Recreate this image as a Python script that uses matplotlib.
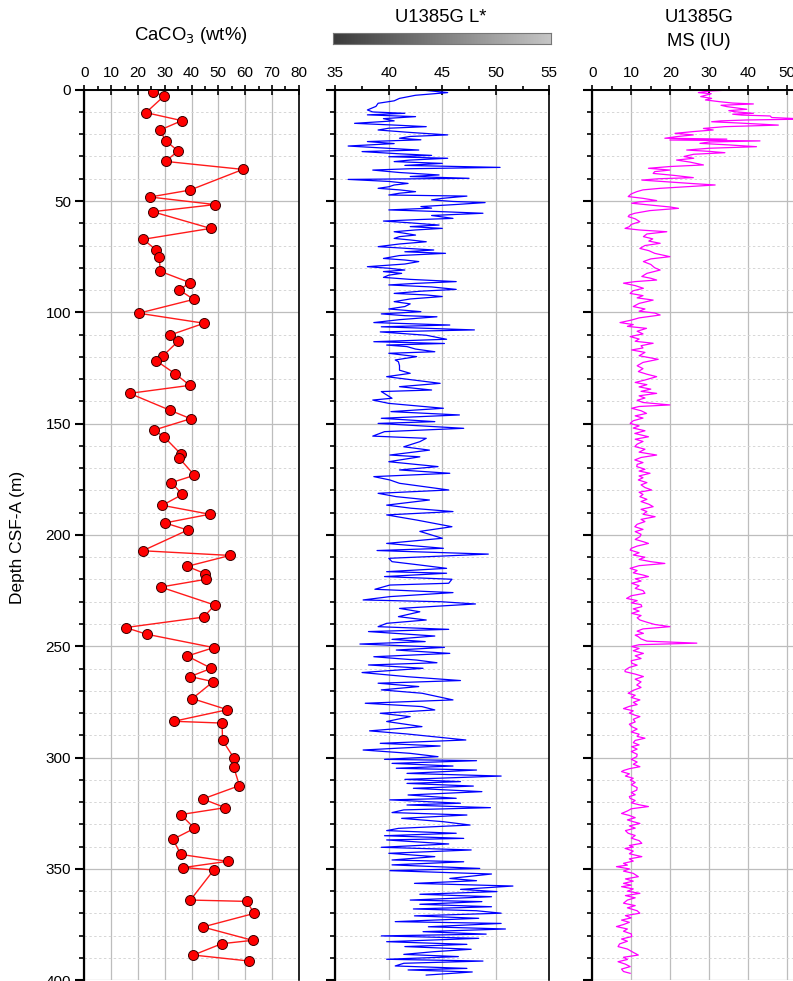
import numpy as np
import matplotlib
matplotlib.use('Agg')
import matplotlib.pyplot as plt
from matplotlib.ticker import MultipleLocator
from matplotlib.colors import LinearSegmentedColormap

plt.rcParams['font.family'] = ['Liberation Sans', 'DejaVu Sans']

# --- CaCO3 (wt%) discrete samples ---
caco3_depth = [1.0, 2.8, 10.3, 13.9, 18.1, 22.9, 27.5, 32.2, 35.8, 45.1, 48.2, 51.6, 54.8, 62.3,
               67.2, 72.0, 75.1, 81.6, 86.7, 89.9, 94.2, 100.4, 104.9, 110.2, 112.9, 119.6, 121.7,
               127.7, 132.8, 136.4, 144.0, 147.8, 152.9, 156.0, 163.6, 165.6, 173.2, 176.5, 181.8,
               186.7, 190.7, 194.6, 197.8, 207.1, 209.2, 214.1, 217.4, 219.9, 223.4, 231.5, 236.9,
               241.6, 244.6, 250.6, 254.4, 259.9, 263.6, 265.9, 273.5, 278.5, 283.7, 284.5, 292.3,
               300.0, 304.1, 312.6, 318.6, 322.5, 325.6, 331.8, 336.7, 343.5, 346.6, 349.4, 350.5,
               364.0, 364.6, 370.0, 376.1, 382.1, 383.6, 388.7, 391.4]
caco3_wt = [25.5, 29.8, 23.0, 36.4, 28.3, 30.3, 35.0, 30.3, 59.2, 39.4, 24.5, 48.8, 25.5, 47.1,
            22.0, 26.8, 27.9, 28.4, 39.5, 35.4, 40.8, 20.3, 44.7, 32.0, 35.1, 29.3, 26.8,
            34.0, 39.4, 16.9, 32.0, 39.7, 26.0, 29.8, 36.0, 35.5, 41.1, 32.5, 36.6,
            29.1, 46.8, 30.1, 38.6, 21.8, 54.4, 38.4, 45.1, 45.5, 28.5, 48.7, 44.5,
            15.4, 23.3, 48.3, 38.4, 47.4, 39.5, 48.1, 40.3, 53.4, 33.4, 51.4, 51.6,
            55.7, 55.7, 57.9, 44.2, 52.6, 36.0, 41.1, 33.1, 36.0, 53.5, 37.0, 48.3,
            39.6, 60.6, 63.4, 44.2, 62.8, 51.3, 40.7, 61.6]

# --- U1385G L* ---
lstar_depth = [0.1, 0.6, 1.3, 2.5, 3.9, 5.0, 6.1, 7.5, 9.1, 10.0, 10.6, 11.3, 12.1, 13.0, 14.0, 15.1,
               16.0, 16.6, 17.3, 18.1, 19.2, 20.3, 21.0, 21.8, 22.5, 23.3, 24.2, 25.3, 26.2, 27.1,
               27.8, 28.8, 29.5, 30.1, 30.8, 31.6, 32.3, 33.1, 34.0, 34.9, 35.5, 36.1, 37.2, 38.3,
               39.0, 39.8, 40.3, 41.2, 42.1, 42.8, 43.6, 44.3, 45.0, 45.8, 46.5, 47.3, 47.8, 48.8,
               49.5, 50.2, 50.7, 51.5, 52.5, 53.2, 54.0, 54.7, 55.5, 56.5, 57.8, 58.3, 59.0, 59.8,
               60.8, 61.5, 62.3, 63.0, 63.8, 64.5, 65.3, 66.0, 66.8, 67.5, 68.3, 69.3, 70.5, 71.2,
               72.0, 72.8, 73.5, 74.5, 75.8, 76.5, 77.2, 78.3, 79.5, 80.2, 81.0, 81.7, 82.5, 83.3,
               84.3, 85.2, 86.2, 87.0, 87.7, 88.6, 89.7, 90.5, 91.5, 92.2, 92.9, 94.0, 95.2, 96.2,
               97.4, 98.5, 99.7, 100.7,
               101.5, 102.0, 103.3, 104.6, 105.7, 106.5, 107.9, 108.8, 110.3, 112.1, 113.2, 114.0,
               114.7, 115.4, 116.5, 117.7, 118.4, 119.9, 121.4, 122.2, 124.0, 126.0, 127.4, 128.9,
               131.1, 131.9, 133.4, 134.9, 135.6, 138.6, 139.4, 140.9, 143.1, 144.6, 146.1, 147.6,
               149.1, 149.9, 152.1, 153.6, 155.6, 156.6, 158.1, 160.4, 161.9, 164.1, 164.9, 167.1,
               169.3, 170.8, 172.3, 173.8, 175.3, 176.8, 179.8, 181.3, 182.8, 184.3, 186.6, 188.0,
               189.5, 191.0, 193.3, 196.3, 198.4, 201.5,
               203.8, 206.0, 207.0, 208.6, 210.5, 212.0, 213.5, 215.0, 216.5, 217.2, 218.7, 219.9,
               221.7, 222.5, 224.4, 225.9, 227.7, 229.2, 230.0, 231.0, 233.0, 234.5, 236.7, 238.2,
               239.7, 241.2, 242.4, 243.4, 245.4, 246.9, 247.9, 249.0, 250.5, 251.7, 253.2, 254.7,
               256.2, 257.4, 258.4, 259.9, 261.8, 263.7, 265.4, 266.6, 268.1, 269.6, 271.1, 274.1,
               275.6, 277.1, 278.6, 280.1, 281.6, 283.8, 286.1, 288.0, 289.4, 292.1, 293.6, 294.8,
               296.6, 298.1, 299.6,
               300.8, 301.4, 302.6, 303.8, 304.8, 305.6, 307.1, 308.3, 309.8, 310.8, 311.6, 312.8,
               313.8, 315.3, 316.8, 318.3, 319.0, 320.5, 321.3, 322.5, 323.5, 324.7, 325.8, 327.3,
               328.8, 330.3, 331.8, 332.8, 334.0, 335.1, 336.3, 337.0, 338.8, 340.3, 341.5, 343.0,
               344.5, 346.0, 346.8, 348.2, 349.8, 350.8, 352.3, 354.3, 355.3, 356.5, 357.7, 359.2,
               360.2, 361.4, 362.5, 364.0, 364.7, 365.9, 367.0, 368.0, 368.8, 369.9, 371.1, 372.2,
               373.7, 374.5, 376.0, 377.0, 378.2, 379.3, 380.1, 381.2, 382.7, 383.9, 384.9, 386.1,
               387.2, 388.4, 389.4, 390.6, 391.4, 392.4, 393.6, 394.7, 395.4, 396.3, 397.7]
lstar = [43.0, 44.0, 45.5, 42.5, 41.0, 40.5, 39.0, 38.8, 38.0, 38.5, 41.5, 38.0, 42.5, 39.5, 40.5, 36.8,
         41.0, 43.5, 40.0, 39.0, 42.0, 45.5, 42.0, 41.0, 43.0, 38.0, 40.5, 36.2, 39.5, 42.8,
         37.5, 41.0, 44.0, 40.0, 45.5, 42.0, 40.5, 45.0, 41.5, 50.4, 42.0, 38.5, 41.0, 44.7,
         42.0, 47.5, 36.2, 40.0, 41.8, 40.5, 40.0, 39.0, 41.0, 42.5, 41.0, 40.0, 47.3, 45.0,
         44.0, 46.0, 49.0, 46.5, 43.0, 44.0, 40.0, 44.5, 48.8, 44.0, 46.0, 43.0, 39.5, 42.0,
         44.7, 42.0, 45.0, 42.5, 40.5, 41.5, 42.5, 41.0, 40.5, 42.0, 43.5, 41.0, 39.0, 41.5,
         44.2, 41.5, 45.3, 41.0, 39.5, 41.5, 42.8, 41.5, 38.0, 40.0, 41.5, 39.5, 41.2, 40.0,
         39.5, 42.0, 46.3, 42.5, 40.0, 44.0, 46.3, 43.0, 40.5, 43.5, 45.0, 42.0, 40.5, 42.0,
         41.5, 40.0, 43.0, 39.3,
         41.5, 44.5, 41.0, 38.6, 45.7, 39.3, 48.0, 39.2, 43.5, 45.4, 38.6, 45.2,
         39.8, 41.7, 42.5, 44.3, 40.0, 42.6, 40.6, 40.9, 41.0, 41.0, 42.0, 39.8,
         43.5, 44.8, 41.0, 44.0, 39.3, 40.3, 38.5, 40.0, 45.1, 40.2, 46.6, 39.3,
         44.3, 39.0, 47.0, 39.6, 38.5, 43.5, 42.9, 41.4, 43.8, 40.1, 42.9, 40.0,
         44.6, 41.0, 45.7, 38.6, 40.1, 41.0, 45.6, 39.0, 40.7, 43.8, 39.8, 42.1,
         46.0, 39.8, 42.6, 45.9, 42.9, 45.0,
         39.8, 45.1, 38.9, 49.3, 40.0, 40.3, 42.9, 45.4, 39.8, 45.4, 39.6, 45.9,
         45.6, 40.1, 38.7, 46.0, 40.1, 37.6, 44.9, 48.1, 41.0, 42.9, 40.9, 43.5,
         39.8, 39.0, 45.6, 38.1, 44.3, 40.3, 43.4, 37.3, 45.2, 40.7, 45.7, 38.6,
         42.6, 44.5, 38.1, 43.2, 37.5, 41.8, 46.7, 39.0, 42.8, 39.3, 43.1, 46.0,
         37.8, 43.1, 44.3, 39.2, 42.0, 39.8, 43.1, 38.2, 41.7, 47.2, 39.2, 44.8,
         37.6, 42.0, 44.6,
         39.6, 48.2, 40.3, 46.0, 40.7, 48.2, 41.7, 50.5, 41.5, 46.7, 41.7, 47.9,
         42.3, 48.7, 41.8, 46.3, 40.1, 46.7, 41.7, 49.5, 41.4, 40.3, 47.3, 41.2,
         45.1, 47.6, 40.9, 39.8, 46.3, 39.6, 47.0, 39.8, 45.6, 39.3, 47.7, 40.0,
         44.3, 40.3, 47.0, 40.3, 48.5, 40.1, 49.6, 45.7, 48.2, 42.4, 51.6, 46.7,
         50.1, 42.9, 49.6, 42.0, 48.7, 42.9, 49.6, 42.3, 48.2, 50.5, 42.4, 48.4,
         40.6, 50.5, 43.7, 50.9, 43.2, 49.1, 39.3, 48.4, 39.8, 47.3, 41.5, 47.7,
         44.2, 41.4, 46.5, 39.8, 48.8, 41.4, 40.6, 47.3, 41.8, 47.8, 43.5]

# --- U1385G magnetic susceptibility (IU) ---
ms_depth = [0.1, 0.6, 1.3, 1.8, 2.4, 3.1, 3.9, 4.6, 5.4, 6.0, 6.4, 7.0, 7.6, 8.2, 8.8, 9.4, 9.9, 10.6,
            11.0, 11.4, 11.8, 12.5, 13.2, 13.6, 14.0, 14.4, 15.0, 15.9, 16.6, 17.4, 18.1, 18.8, 19.6,
            20.3, 21.0, 21.8, 22.2, 22.6, 23.0, 23.5, 24.1, 24.8, 25.6, 26.3, 27.1, 27.7, 28.3, 29.0,
            30.0, 30.8, 31.6, 32.5, 33.8, 34.5, 35.3, 36.1, 36.8, 37.6, 38.5, 39.5, 40.0, 40.6, 41.5,
            42.2, 42.8, 43.6, 44.3, 45.0, 45.8, 46.8, 48.0, 48.8, 49.8, 50.4, 51.0, 52.0, 52.7, 53.3,
            54.3, 55.5, 56.3, 57.0, 58.0, 59.3, 60.5, 61.5, 62.3, 63.0, 63.8, 64.8, 66.0, 67.0, 68.0,
            69.0, 70.0, 71.3, 72.3, 73.5, 75.0, 76.0, 77.2, 78.5, 80.0, 81.0, 82.5, 83.9, 84.7, 85.5,
            86.2, 86.9, 88.0, 89.2, 90.3, 91.5, 92.5, 93.5, 94.5, 96.0, 97.4, 98.5, 99.5, 100.3,
            101.2, 102.5, 103.5, 104.6, 105.5, 106.3, 107.2, 108.5, 109.7, 110.9, 112.0, 113.0,
            113.9, 115.0, 116.0, 116.9, 118.0, 119.5, 121.1, 122.5, 124.0, 125.3, 126.6, 127.8,
            128.9, 130.4,
            131.5, 132.5, 133.5, 134.5, 135.5, 136.4, 137.5, 138.5, 139.5, 140.5, 141.6, 142.3,
            143.1, 144.2, 145.4, 146.5, 147.5, 148.7, 149.9, 151.0, 152.0, 153.2, 154.4, 155.9,
            157.0, 158.0, 159.2, 160.3, 161.5, 162.8, 164.1, 165.2, 166.3, 167.5, 168.3, 169.3,
            170.5, 171.3, 172.3, 173.5, 174.3, 175.3, 176.5, 177.5, 178.7, 179.8, 180.8, 181.8,
            182.8, 184.0, 185.0, 186.2, 187.3, 188.5, 189.5, 190.7, 191.8, 193.0, 194.0, 195.2,
            196.3, 197.5, 198.5, 199.7, 200.8, 202.0, 203.0, 203.8, 205.0, 206.0, 206.8, 208.0,
            209.0, 210.0, 211.0, 212.0, 212.8, 213.8, 215.0, 216.0, 217.0, 218.0, 218.7, 219.7,
            220.7, 221.7, 222.8, 224.0, 225.0, 226.2, 227.3, 228.5, 229.5, 230.5, 231.3, 232.2,
            233.2, 234.2, 235.2, 236.2, 237.2, 238.2, 239.2, 240.2, 241.2, 242.2, 243.2, 244.2,
            245.0, 245.7, 246.7, 247.7, 248.6, 249.3, 250.1, 251.0, 252.0, 253.2, 254.3, 255.5,
            256.5, 257.6, 258.5, 259.5, 260.7, 261.4, 262.5, 263.6,
            264.8, 266.0, 267.4, 268.5, 269.8, 271.1, 272.0, 273.0, 274.1, 275.2, 276.2, 277.0,
            278.0, 279.0, 280.0, 281.0, 281.6, 282.8, 284.0, 285.0, 286.1, 287.2, 288.5, 289.5,
            290.5, 291.3, 292.3, 293.3, 294.3, 295.1, 296.2, 297.3, 298.5, 299.6, 300.8, 302.0,
            303.0, 304.1, 305.0, 305.8, 306.3, 307.3, 308.3, 309.3, 310.1, 311.2, 312.2, 313.5,
            314.6, 315.7, 316.7, 317.5, 318.3, 319.3, 320.3, 321.2, 322.0, 323.0, 324.0, 325.1,
            326.0, 327.0, 328.0, 328.8, 329.6, 330.7, 331.7, 332.8, 334.0, 335.0, 336.2, 337.3,
            338.5, 339.5, 340.2, 340.8, 342.0, 343.2, 344.5, 345.5, 346.5, 347.5, 348.3, 349.0,
            350.0, 351.0, 352.0, 353.5, 354.5, 355.5, 356.5, 357.3, 358.0, 359.0, 360.0, 361.0,
            362.0, 363.0, 364.0, 365.4, 366.5, 367.5, 368.8, 369.9, 371.0, 372.0, 373.0, 374.0,
            375.0, 375.9, 377.0, 378.0, 379.2, 380.4, 381.5, 382.5, 383.7, 384.9, 386.0, 387.5,
            388.7, 389.7, 390.7, 391.7, 392.8, 393.9, 395.0, 396.1, 396.9]
ms = [35.7, 30.0, 27.2, 30.5, 29.3, 27.8, 30.6, 29.0, 32.7, 36.0, 41.3, 33.0, 34.5, 37.0, 39.6, 35.0, 36.5, 41.3,
      36.0, 38.3, 45.6, 46.0, 55.0, 39.6, 33.0, 30.6, 38.0, 47.7, 34.0, 28.5, 31.0, 26.0, 21.2,
      25.9, 22.0, 18.6, 34.5, 19.9, 43.0, 30.0, 27.6, 35.0, 42.1, 30.0, 24.2, 30.0, 34.0, 26.0,
      23.5, 26.0, 21.6, 25.0, 28.5, 20.0, 14.4, 19.9, 16.0, 15.6, 21.0, 25.9, 17.0, 12.7, 20.0,
      26.0, 31.5, 24.2, 17.4, 13.0, 11.4, 10.0, 9.2, 13.0, 16.5, 12.0, 10.1, 16.0, 20.0, 22.1,
      14.8, 10.9, 9.5, 9.2, 11.0, 12.2, 10.0, 9.5, 8.4, 12.0, 19.1, 14.0, 13.1, 15.5, 14.5,
      17.4, 13.5, 12.2, 14.5, 16.0, 19.9, 15.0, 13.1, 15.0, 16.0, 17.4, 14.0, 12.7, 15.0, 16.5,
      11.0, 8.0, 11.0, 13.1, 10.5, 9.7, 13.0, 11.5, 15.6, 12.0, 10.5, 13.5, 12.0, 16.0,
      17.4, 12.0, 10.0, 7.1, 10.5, 9.0, 13.9, 11.5, 13.0, 9.7, 12.0, 11.0,
      15.6, 12.5, 13.0, 10.1, 13.5, 12.0, 16.9, 13.0, 11.5, 13.0, 11.8, 14.0,
      16.5, 13.5,
      11.0, 14.0, 12.0, 15.0, 12.5, 16.5, 12.0, 13.5, 11.5, 13.0, 19.9, 12.0,
      10.1, 12.5, 13.9, 11.0, 13.0, 10.5, 9.7, 12.0, 10.5, 13.5, 10.9, 14.4,
      11.0, 13.0, 11.5, 10.9, 13.5, 12.0, 16.5, 12.5, 10.9, 13.0, 11.5, 11.4,
      13.5, 12.0, 14.8, 12.0, 13.0, 11.8, 14.0, 12.5, 13.5, 15.2, 12.0, 13.0,
      12.2, 14.0, 12.5, 14.5, 15.6, 12.5, 14.0, 13.0, 16.1, 12.5, 13.5, 11.5,
      10.9, 13.0, 11.0, 12.5, 12.2, 11.0, 13.0, 14.4, 11.5, 10.0, 9.7, 12.0,
      10.5, 13.5, 12.0, 15.0, 18.6, 12.0, 9.7, 11.5, 10.5, 13.0, 14.4, 11.0,
      12.5, 10.1, 12.0, 11.0, 13.0, 13.5, 10.0, 8.8, 11.5, 10.0, 12.5, 12.7,
      10.5, 12.0, 10.1, 12.5, 11.5, 12.2, 14.0, 16.0, 19.9, 13.0, 11.5, 13.1,
      11.0, 11.8, 12.5, 14.0, 26.8, 12.0, 10.1, 12.0, 10.5, 13.1, 11.0, 12.5,
      10.0, 10.1, 11.5, 9.5, 8.4, 8.4, 11.0, 13.1,
      11.0, 12.5, 11.4, 12.5, 10.5, 9.2, 11.0, 10.0, 12.2, 10.5, 11.5, 9.5,
      8.0, 10.5, 9.5, 11.0, 12.2, 10.5, 11.0, 9.5, 10.1, 11.5, 10.0, 12.0,
      11.5, 13.5, 11.0, 10.5, 12.0, 10.1, 11.5, 10.0, 11.5, 11.4, 10.0, 11.5,
      10.5, 12.2, 9.5, 8.0, 7.5, 9.5, 8.5, 10.5, 9.7, 11.0, 10.0, 11.5,
      11.4, 10.0, 11.0, 9.5, 9.7, 11.0, 10.0, 12.0, 14.4, 10.0, 9.0, 7.5,
      9.5, 11.0, 9.0, 10.5, 12.2, 9.5, 11.0, 8.5, 9.2, 11.0, 10.0, 12.0,
      12.7, 9.5, 10.5, 8.4, 10.5, 9.5, 12.7, 9.5, 10.5, 8.0, 9.0, 6.2,
      9.5, 8.0, 10.5, 11.8, 8.5, 10.5, 8.0, 10.0, 7.5, 10.5, 9.0, 12.2,
      8.5, 11.0, 9.0, 8.0, 11.0, 9.0, 11.5, 12.2, 8.5, 10.0, 7.5, 9.5,
      8.0, 6.2, 9.0, 8.0, 10.0, 10.1, 7.5, 9.0, 7.0, 6.6, 9.0, 10.5,
      11.8, 8.0, 9.0, 6.6, 8.5, 9.7, 7.5, 8.0, 9.7]

W, H = 793, 981
TOP, BOTTOM = 89.7, 980.2

fig = plt.figure(figsize=(W / 100, H / 100), dpi=100)


def track(x0, x1):
    return fig.add_axes([x0 / W, 1 - BOTTOM / H, (x1 - x0) / W, (BOTTOM - TOP) / H])


def style_track(ax, xlim, major, minor, ylabels=False):
    ax.set_xlim(*xlim)
    ax.set_ylim(400, 0)
    ax.set_axisbelow(True)
    ax.xaxis.set_major_locator(MultipleLocator(major))
    ax.xaxis.set_minor_locator(MultipleLocator(minor))
    ax.yaxis.set_major_locator(MultipleLocator(50))
    ax.yaxis.set_minor_locator(MultipleLocator(10))
    ax.xaxis.tick_top()
    ax.tick_params(axis='x', which='major', direction='inout', length=6.5, width=1.2,
                   labelsize=11, pad=4)
    ax.tick_params(axis='x', which='minor', direction='out', length=3, width=1.2)
    ax.tick_params(axis='y', which='major', direction='out', length=6.5, width=1.5,
                   labelsize=11, labelleft=ylabels, pad=3)
    ax.tick_params(axis='y', which='minor', direction='out', length=3.5, width=1.2)
    ax.grid(which='major', color='#bdbdbd', lw=0.9)
    ax.grid(which='minor', axis='y', color='#d6d6d6', lw=0.7, ls=(0, (2.5, 2.5)))
    ax.spines['bottom'].set_visible(False)
    ax.spines['left'].set_linewidth(1.6)
    ax.spines['top'].set_linewidth(1.4)
    ax.spines['right'].set_linewidth(1.2)


# CaCO3 track
ax1 = track(84.3, 298.7)
style_track(ax1, (0, 80), 10, 5, ylabels=True)
ax1.plot(caco3_wt, caco3_depth, color='#ff1a1a', lw=1.0, zorder=2)
ax1.plot(caco3_wt, caco3_depth, 'o', ms=7.2, mfc='#ff0000', mec='#3a0000', mew=0.7, zorder=3)

# L* track
ax2 = track(335.3, 549.3)
style_track(ax2, (35, 55), 5, 2.5)
ax2.plot(lstar, lstar_depth, color='#0000ff', lw=0.9)

# MS track (runs past the right edge of the figure)
ax3 = track(592.3, 806.8)
style_track(ax3, (0, 55), 10, 5)
ax3.plot(ms, ms_depth, color='#ff00ff', lw=0.9)

# headers
fig.text(191 / W, 1 - 35 / H, 'CaCO$_3$ (wt%)', ha='center', va='center', fontsize=13.3)
fig.text(441 / W, 1 - 18 / H, 'U1385G L*', ha='center', va='center', fontsize=13.3)
fig.text(699 / W, 1 - 18 / H, 'U1385G', ha='center', va='center', fontsize=13.3)
fig.text(699 / W, 1 - 42 / H, 'MS (IU)', ha='center', va='center', fontsize=13.3)
fig.text(18 / W, 1 - 537 / H, 'Depth CSF-A (m)', ha='center', va='center',
         rotation=90, fontsize=12.5)

# grey gradient bar under the L* header
cax = fig.add_axes([332.7 / W, 1 - 44 / H, (550.7 - 332.7) / W, 11 / H])
grey = LinearSegmentedColormap.from_list('lgrey', ['#3a3a3a', '#c6c6c6'])
cax.imshow(np.linspace(0, 1, 256)[None, :], aspect='auto', cmap=grey)
cax.set_xticks([])
cax.set_yticks([])
for sp in cax.spines.values():
    sp.set_color('#777777')
    sp.set_linewidth(0.8)

fig.savefig('out.png', dpi=100)
